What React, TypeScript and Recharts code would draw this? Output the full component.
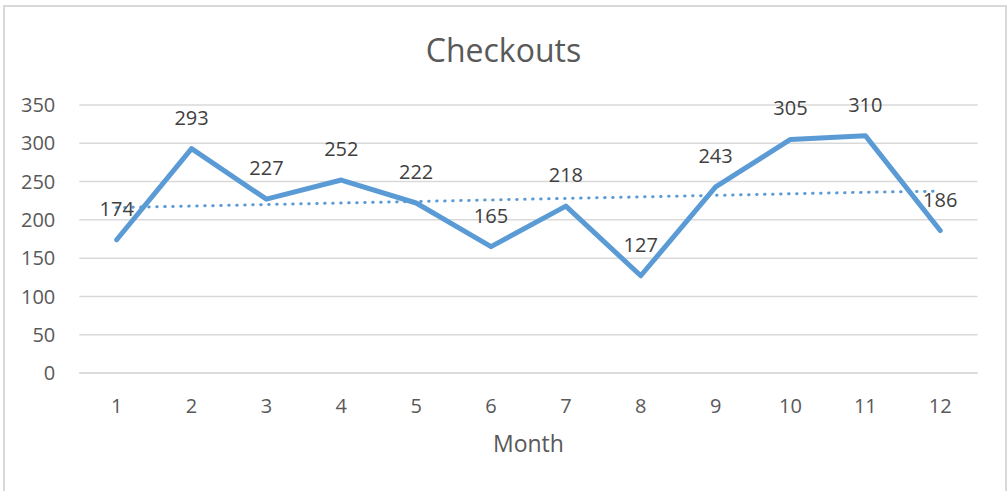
import { LineChart, Line, XAxis, YAxis, CartesianGrid, LabelList } from 'recharts';

const months = ['1', '2', '3', '4', '5', '6', '7', '8', '9', '10', '11', '12'];
const checkouts = [174, 293, 227, 252, 222, 165, 218, 127, 243, 305, 310, 186];
// dotted linear trend
const trend = [216, 218, 220, 222, 224, 226, 228, 230, 232, 234, 236, 237.5];
const yTicks = [0, 50, 100, 150, 200, 250, 300, 350];

const font = '"Open Sans", sans-serif';
const blue = '#5b9bd5';

export default function App() {
  const data = months.map((m, i) => ({ month: m, checkouts: checkouts[i], trend: trend[i] }));

  return (
    <div style={{ position: 'absolute', left: 0, top: 0, width: 1007, height: 491, overflow: 'hidden', background: '#fff', fontFamily: font }}>
      <div style={{ position: 'absolute', left: 3, top: 5, width: 1000, height: 520, border: '2px solid #d9d9d9' }} />
      <div style={{ position: 'absolute', left: 0, top: 30, width: 1007, textAlign: 'center', fontSize: 32, lineHeight: '40px', color: '#595959' }}>
        Checkouts
      </div>
      <div style={{ position: 'absolute', left: 0, top: 0 }}>
        <LineChart
          width={1007}
          height={491}
          data={data}
          margin={{ top: 105, right: 29.4, left: 19.3, bottom: 28 }}
        >
          <CartesianGrid vertical={false} stroke="#d9d9d9" strokeWidth={1.5} />
          <XAxis
            dataKey="month"
            height={90}
            padding={{ left: 37.4, right: 37.4 }}
            tickLine={false}
            axisLine={{ stroke: '#d9d9d9', strokeWidth: 1.5 }}
            tickMargin={20}
            tick={{ fill: '#595959', fontSize: 20, fontFamily: font }}
            label={{ value: 'Month', position: 'insideBottom', offset: 11, fill: '#595959', fontSize: 23, fontFamily: font }}
          />
          <YAxis
            width={60}
            domain={[0, 350]}
            ticks={yTicks}
            tickLine={false}
            axisLine={false}
            tickMargin={18}
            tick={{ fill: '#595959', fontSize: 20, fontFamily: font }}
          />
          <Line
            dataKey="trend"
            stroke={blue}
            strokeWidth={3}
            strokeLinecap="round"
            strokeDasharray="0.5 7.5"
            dot={false}
            isAnimationActive={false}
          />
          <Line
            dataKey="checkouts"
            stroke={blue}
            strokeWidth={5}
            strokeLinecap="round"
            strokeLinejoin="round"
            dot={false}
            isAnimationActive={false}
          >
            <LabelList dataKey="checkouts" position="top" offset={24} fill="#404040" fontSize={20} fontFamily={font} />
          </Line>
        </LineChart>
      </div>
    </div>
  );
}
